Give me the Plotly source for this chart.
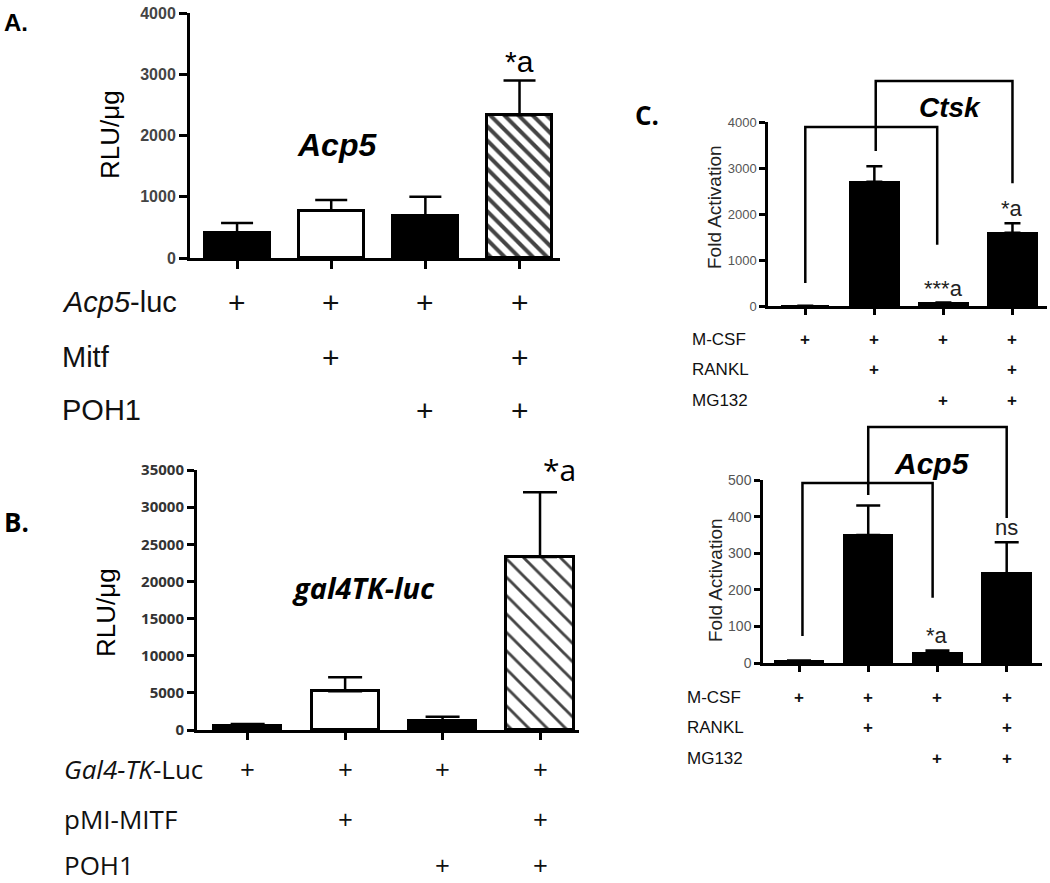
import plotly.graph_objects as go

# the page body margin is removed in post_script, so the figure fills the window
W, H, PAD = 1050, 883, 0

# ---- data ----
bars = [0, 1, 2, 3]

# panel A : Acp5 reporter
a_rows = ["<i>Acp5</i>-luc", "Mitf", "POH1"]
a_flags = [[1, 1, 1, 1], [0, 1, 0, 1], [0, 0, 1, 1]]
a_values = [410, 770, 685, 2330]
a_err = [160, 175, 315, 570]

# panel B : gal4TK-luc reporter
b_rows = ["<i>Gal4-TK</i>-Luc", "pMI-MITF", "POH1"]
b_flags = [[1, 1, 1, 1], [0, 1, 0, 1], [0, 0, 1, 1]]
b_values = [500, 5200, 1250, 23300]
b_err = [300, 1900, 540, 8700]

# panel C : fold activation
c_rows = ["M-CSF", "RANKL", "MG132"]
c_flags = [[1, 1, 1, 1], [0, 1, 0, 1], [0, 0, 1, 1]]
ctsk_values = [8, 2700, 60, 1590]
ctsk_err = [0, 340, 15, 210]
acp5_values = [5, 350, 28, 245]
acp5_err = [2, 80, 6, 85]

# brackets: (left bar, right bar, left foot, top, right foot)
ctsk_brackets = [(0, 1.91, 500, 3890, 1330), (1.02, 3.0, 3370, 4890, 2670)]
acp5_brackets = [(0.05, 1.93, 74, 492, 178), (1.0, 3.0, 459, 645, 396)]

ctsk_marks = [(2, 60, "***a"), (3, 1800, "*a")]
acp5_marks = [(2, 35, "*a"), (3, 330, "ns")]

ARIAL = "Liberation Sans, Arial, sans-serif"
CAL = "Open Sans, Lato, sans-serif"


def fx(px):
    return min(1.0, max(0.0, (px - PAD) / W))


def fy(py):
    return min(1.0, max(0.0, 1 - (py - PAD) / H))


fig = go.Figure()

# panel geometry in page pixels
panels = {
    "A": dict(xa="x", ya="y", x0=190, x1=560, yb=258, yt=13, xr=[-0.5, 3.43], ymax=4000),
    "B": dict(xa="x2", ya="y2", x0=197, x1=579, yb=730, yt=470, xr=[-0.52, 3.4], ymax=35000),
    "C1": dict(xa="x3", ya="y3", x0=768, x1=1047, yb=306, yt=122, xr=[-0.54, 3.5], ymax=4000),
    "C2": dict(xa="x4", ya="y4", x0=763, x1=1042, yb=663, yt=480, xr=[-0.52, 3.51], ymax=500),
}


def add_bars(p, values, err, colors, shapes, width, cap, lw, psize, solid):
    fig.add_trace(go.Bar(
        x=bars, y=values, xaxis=p["xa"], yaxis=p["ya"], width=width,
        marker=dict(color=colors, line=dict(color="black", width=lw),
                    pattern=dict(shape=shapes, fgcolor="black", fgopacity=1,
                                 size=psize, solidity=solid)),
        error_y=dict(type="data", array=err, arrayminus=[0] * len(err), symmetric=False,
                     color="black", thickness=2.5, width=cap),
        showlegend=False, hoverinfo="skip"))


add_bars(panels["A"], a_values, a_err, ["black", "white", "black", "white"],
         ["", "", "", "\\"], 0.69, 16, 3, 10, 0.4)
add_bars(panels["B"], b_values, b_err, ["black", "white", "black", "white"],
         ["", "", "", "\\"], 0.69, 17, 3, 13, 0.22)
add_bars(panels["C1"], ctsk_values, ctsk_err, ["black"] * 4, [""] * 4, 0.7, 8, 2, 8, 0.3)
add_bars(panels["C2"], acp5_values, acp5_err, ["black"] * 4, [""] * 4, 0.7, 12, 2, 8, 0.3)

# bracket traces live on taller hidden y axes so they can rise above the plotted range
for p, brackets, ya in [(panels["C1"], ctsk_brackets, "y5"), (panels["C2"], acp5_brackets, "y6")]:
    for xl, xr, yl, yt, yr in brackets:
        fig.add_trace(go.Scatter(
            x=[xl, xl, xr, xr], y=[yl, yt, yt, yr], xaxis=p["xa"], yaxis=ya,
            mode="lines", line=dict(color="black", width=2.5),
            showlegend=False, hoverinfo="skip"))

layout = dict(width=W, height=H, margin=dict(l=0, r=0, t=0, b=0, autoexpand=False),
              paper_bgcolor="white", plot_bgcolor="rgba(0,0,0,0)", bargap=0)

tick_styles = {
    "A": dict(font=dict(family=ARIAL, size=16, color="#444", weight="bold"), lw=3, tl=8, step=1000),
    "B": dict(font=dict(family=CAL, size=15, color="#333", weight="bold"), lw=3, tl=7, step=5000),
    "C1": dict(font=dict(family=ARIAL, size=13, color="#555"), lw=2.5, tl=6, step=1000),
    "C2": dict(font=dict(family=ARIAL, size=14, color="#555"), lw=2.5, tl=6, step=100),
}

for key, p in panels.items():
    st = tick_styles[key]
    xname = "xaxis" + p["xa"][1:]
    yname = "yaxis" + p["ya"][1:]
    layout[xname] = dict(domain=[fx(p["x0"]), fx(p["x1"])], range=p["xr"], anchor=p["ya"],
                         showline=True, linecolor="black", linewidth=st["lw"],
                         ticks="outside", ticklen=st["tl"], tickwidth=2.5, tickcolor="black",
                         tickvals=bars, showticklabels=False, showgrid=False, zeroline=False)
    layout[yname] = dict(domain=[fy(p["yb"]), fy(p["yt"])], range=[0, p["ymax"]], anchor=p["xa"],
                         showline=True, linecolor="black", linewidth=st["lw"],
                         ticks="outside", ticklen=st["tl"], tickwidth=2.5, tickcolor="black",
                         tickvals=list(range(0, p["ymax"] + 1, st["step"])), tickformat="d",
                         tickfont=st["font"], showgrid=False, zeroline=False)

# hidden taller axes for the brackets (same scale as C1 / C2)
for name, p, top_px in [("yaxis5", panels["C1"], 60), ("yaxis6", panels["C2"], 410)]:
    scale = p["ymax"] / (p["yb"] - p["yt"])
    layout[name] = dict(domain=[fy(p["yb"]), fy(top_px)], range=[0, (p["yb"] - top_px) * scale],
                        anchor=p["xa"], visible=False)

fig.update_layout(**layout)

ann = []


def text(x, y, s, size, family=ARIAL, xanchor="center", angle=0, xref="paper", yref="paper",
         color="black", yanchor="middle"):
    ann.append(dict(x=x, y=y, text=s, xref=xref, yref=yref, showarrow=False,
                    xanchor=xanchor, yanchor=yanchor, textangle=angle,
                    font=dict(family=family, size=size, color=color)))


# panel letters
text(fx(2), fy(22), "<b>A.</b>", 24, ARIAL, "left")
text(fx(2), fy(522), "<b>B.</b>", 26, CAL, "left")
text(fx(633), fy(115), "<b>C.</b>", 26, CAL, "left")

# gene titles
text(fx(337), fy(145), "<b><i>Acp5</i></b>", 32)
text(fx(363), fy(587), "<b><i>gal4TK-luc</i></b>", 29, CAL)
text(fx(950), fy(107), "<b><i>Ctsk</i></b>", 28)
text(fx(932), fy(463), "<b><i>Acp5</i></b>", 30)

# y titles
text(fx(110), fy(135), "RLU/μg", 26, angle=-90)
text(fx(106), fy(613), "RLU/μg", 26, angle=-90)
text(fx(715), fy(207), "Fold Activation", 19, angle=-90, color="#222")
text(fx(715), fy(580), "Fold Activation", 19, angle=-90, color="#222")

# significance marks
text(3, a_values[3] + a_err[3], "*a", 30, xref="x", yref="y", yanchor="bottom")
text(3.2, b_values[3] + b_err[3], "*a", 30, CAL, xref="x2", yref="y2", yanchor="bottom")
for x, y, s in ctsk_marks:
    text(x, y, s, 22, xref="x3", yref="y3", yanchor="bottom", color="#222")
for x, y, s in acp5_marks:
    text(x, y, s, 22, xref="x4", yref="y4", yanchor="bottom", color="#222")

# treatment rows
row_sets = [
    (a_rows, a_flags, "x", 60, [302, 357, 410], 29, ARIAL, 30),
    (b_rows, b_flags, "x2", 62, [769, 819, 865], 26, CAL, 26),
    (c_rows, c_flags, "x3", 690, [339, 370, 400], 17, ARIAL, 17),
    (c_rows, c_flags, "x4", 685, [697, 727, 758], 17, ARIAL, 17),
]
for labels, flags, xa, lx, ys, size, fam, psize in row_sets:
    for label, fl, py in zip(labels, flags, ys):
        text(fx(lx), fy(py), label, size, fam, "left", color="#111")
        for b, f in zip(bars, fl):
            if f:
                text(b, fy(py), "<b>+</b>" if size < 20 else "+", psize, fam, xref=xa, color="#111")

fig.update_layout(annotations=ann)

fig.write_html("out.html", config={"displayModeBar": False},
               post_script="document.body.style.margin='0';")
